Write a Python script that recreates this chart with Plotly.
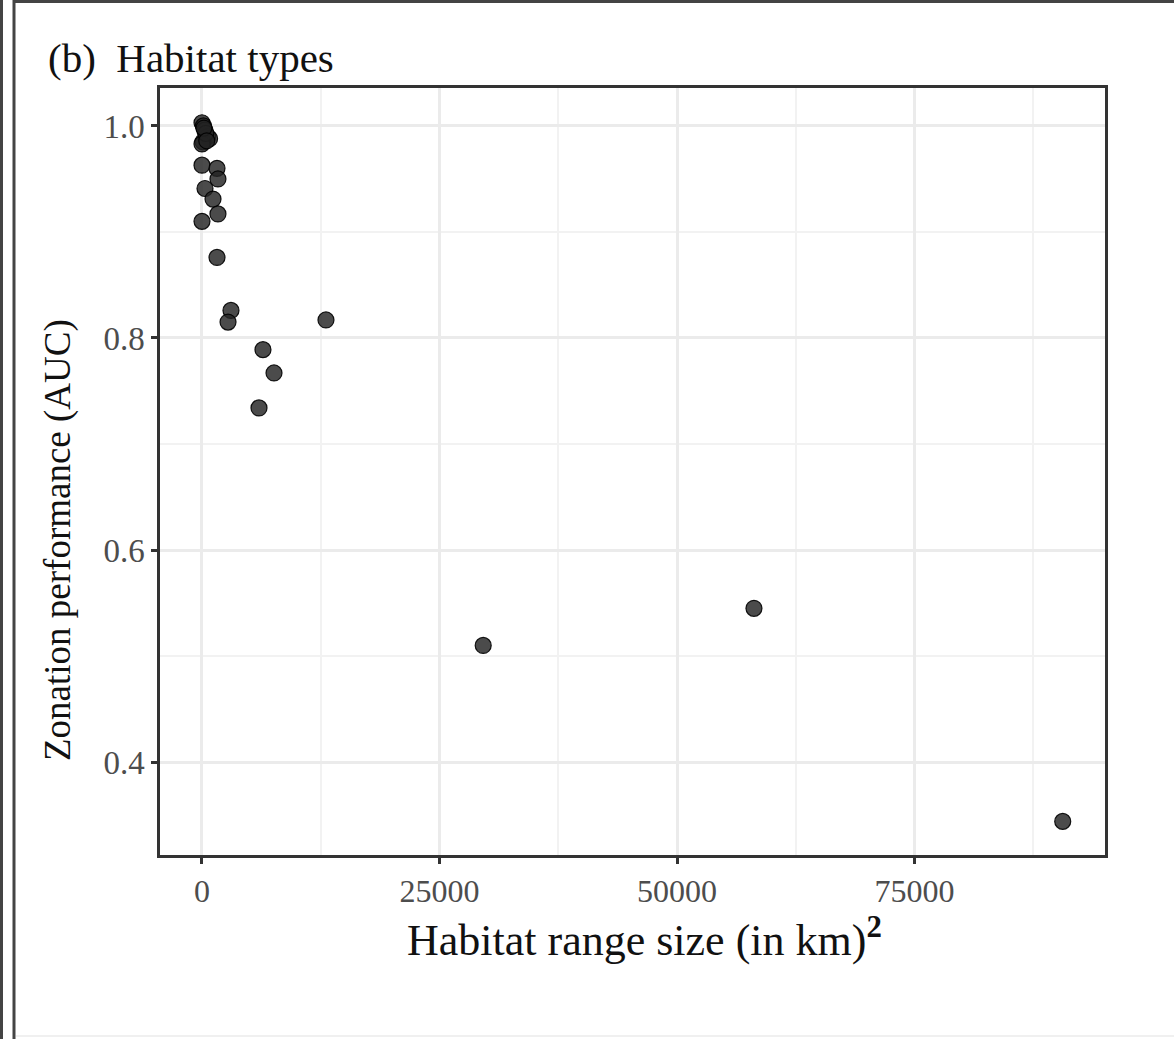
import plotly.graph_objects as go

# Data
range_size_km2 = [0, 150, 300, 600, 800, 100, 0, 400, 200, 500,
                  0, 1580, 1680, 316, 1160, 1680, 0, 1580,
                  3050, 2740, 13050, 6420, 7580, 6000,
                  29600, 58100, 90600]
auc = [1.003, 1.000, 0.996, 0.990, 0.988, 0.985, 0.983, 0.993, 0.998, 0.986,
       0.963, 0.960, 0.950, 0.941, 0.931, 0.917, 0.910, 0.876,
       0.826, 0.815, 0.817, 0.789, 0.767, 0.734,
       0.510, 0.545, 0.344]

x_ticks = [0, 25000, 50000, 75000]
x_tick_labels = ["0", "25000", "50000", "75000"]
y_ticks = [0.4, 0.6, 0.8, 1.0]
y_tick_labels = ["0.4", "0.6", "0.8", "1.0"]

W, H = 1174, 1039
L, R, T, B = 160, 1105, 88, 855  # plot area in pixels


def px(x):
    return (x - L) / (R - L)


def py(y):
    return (B - y) / (B - T)


FONT = "Liberation Serif"

fig = go.Figure()
fig.add_trace(go.Scatter(
    x=range_size_km2, y=auc, mode="markers",
    marker=dict(size=16, color="rgba(35,35,35,0.82)",
                line=dict(width=1.2, color="rgba(0,0,0,0.9)")),
    showlegend=False, hoverinfo="x+y",
))

fig.update_layout(
    width=W, height=H,
    margin=dict(l=L, r=W - R, t=T, b=H - B),
    paper_bgcolor="white", plot_bgcolor="white",
    font=dict(family=FONT, color="#4d4d4d"),
    xaxis=dict(
        range=[-4420, 95050], tickvals=x_ticks, ticktext=x_tick_labels,
        showgrid=True, gridcolor="#ebebeb", gridwidth=2.5,
        minor=dict(showgrid=True, dtick=12500, tick0=12500, gridcolor="#f2f2f2", gridwidth=1.5),
        zeroline=False, showline=True, linecolor="#333333", linewidth=2.5, mirror=True,
        ticks="outside", ticklen=6, tickwidth=2.5, tickcolor="#333333",
        tickfont=dict(family=FONT, size=32, color="#4d4d4d"),
    ),
    yaxis=dict(
        range=[0.3123, 1.0358], tickvals=y_ticks, ticktext=y_tick_labels,
        showgrid=True, gridcolor="#ebebeb", gridwidth=2.5,
        minor=dict(showgrid=True, dtick=0.2, tick0=0.5, gridcolor="#f2f2f2", gridwidth=1.5),
        zeroline=False, showline=True, linecolor="#333333", linewidth=2.5, mirror=True,
        ticks="outside", ticklen=6, tickwidth=2.5, tickcolor="#333333",
        tickfont=dict(family=FONT, size=33, color="#4d4d4d"),
    ),
    annotations=[
        dict(text="(b)  Habitat types", xref="paper", yref="paper",
             x=px(46), y=py(58), xanchor="left", yanchor="middle",
             showarrow=False, font=dict(family=FONT, size=41, color="#111111")),
        dict(text="Habitat range size (in km)<sup><b>2</b></sup>", xref="paper", yref="paper",
             x=px(644), y=py(938), xanchor="center", yanchor="middle",
             showarrow=False, font=dict(family=FONT, size=44, color="#111111")),
        dict(text="Zonation performance (AUC)", xref="paper", yref="paper",
             x=px(58), y=py(540), xanchor="center", yanchor="middle", textangle=-90,
             showarrow=False, font=dict(family=FONT, size=37, color="#111111")),
    ],
    shapes=[
        dict(type="line", xref="paper", yref="paper", x0=px(1.5), x1=px(1.5), y0=py(0), y1=py(H),
             line=dict(color="#444444", width=3)),
        dict(type="line", xref="paper", yref="paper", x0=px(14), x1=px(14), y0=py(0), y1=py(H),
             line=dict(color="#444444", width=3)),
        dict(type="line", xref="paper", yref="paper", x0=px(14), x1=px(W), y0=py(1.5), y1=py(1.5),
             line=dict(color="#444444", width=3)),
        dict(type="line", xref="paper", yref="paper", x0=px(16), x1=px(W), y0=py(1036), y1=py(1036),
             line=dict(color="#f0f0f0", width=2)),
    ],
)

fig.write_html("out.html", config={"displayModeBar": False},
               post_script="document.body.style.margin='0';document.body.style.overflow='hidden';")
